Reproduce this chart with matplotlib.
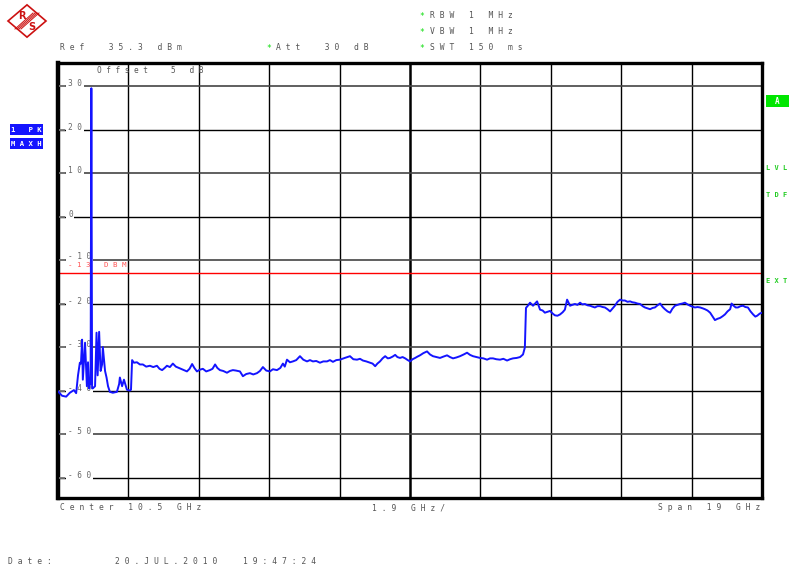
import matplotlib
matplotlib.use("Agg")
import matplotlib.pyplot as plt
from matplotlib.patches import Rectangle, Polygon
from matplotlib.lines import Line2D

# ---------------- data ----------------
freq_ghz = [
    1.00, 1.11, 1.22, 1.32, 1.43, 1.49, 1.54, 1.59, 1.62, 1.65, 1.67, 1.73, 1.78, 1.81, 1.84, 1.86,
    1.88, 1.90, 1.92, 1.94, 2.00, 2.04, 2.07, 2.11, 2.15, 2.19, 2.21, 2.27, 2.31, 2.35, 2.40, 2.48,
    2.59, 2.65, 2.67, 2.73, 2.78, 2.86, 2.94, 2.97,
    3.00, 3.05, 3.13, 3.21, 3.29, 3.38, 3.48, 3.57, 3.67, 3.74, 3.81, 3.88, 3.94, 4.02, 4.10, 4.18,
    4.29, 4.38, 4.48, 4.55, 4.62, 4.68, 4.75, 4.83, 4.91, 5.00, 5.10, 5.17, 5.24, 5.30, 5.37, 5.46,
    5.56, 5.64, 5.72, 5.80, 5.91, 5.99, 6.08, 6.18, 6.27, 6.37, 6.45, 6.53, 6.62, 6.72, 6.80, 6.91,
    7.00, 7.07, 7.12, 7.18, 7.26, 7.34, 7.43, 7.53, 7.62, 7.72, 7.80, 7.88, 7.97, 8.07, 8.16, 8.26,
    8.34, 8.42, 8.51, 8.61, 8.74, 8.88, 8.97, 9.07, 9.15, 9.23, 9.32, 9.42, 9.49, 9.56, 9.62, 9.69,
    9.76, 9.83, 9.90, 9.96, 10.03, 10.10, 10.16, 10.23, 10.30, 10.37, 10.44, 10.50, 10.57, 10.64,
    10.70, 10.77, 10.86, 10.96, 11.04, 11.12, 11.22, 11.31, 11.40, 11.50, 11.58, 11.66, 11.75, 11.85,
    11.95, 12.04, 12.12, 12.20, 12.30, 12.39, 12.48, 12.58, 12.66, 12.74, 12.83, 12.93, 13.02, 13.12,
    13.20, 13.28, 13.38, 13.47, 13.55, 13.60, 13.63, 13.68, 13.74, 13.82, 13.93, 14.01, 14.08, 14.14,
    14.21, 14.28, 14.35, 14.41, 14.48, 14.55, 14.62, 14.68, 14.74, 14.82, 14.88, 14.95, 15.02, 15.09,
    15.15, 15.22, 15.29, 15.36, 15.42, 15.49, 15.56, 15.63, 15.70, 15.76, 15.83, 15.90, 15.96, 16.03,
    16.10, 16.17, 16.24, 16.30, 16.37, 16.44, 16.50, 16.57, 16.64, 16.71, 16.78, 16.84, 16.91, 16.98,
    17.05, 17.11, 17.18, 17.25, 17.32, 17.38, 17.45, 17.52, 17.58, 17.65, 17.72, 17.79, 17.85, 17.92,
    17.99, 18.06, 18.12, 18.19, 18.26, 18.33, 18.40, 18.46, 18.53, 18.60, 18.67, 18.73, 18.80, 18.87,
    18.94, 19.00, 19.07, 19.14, 19.18, 19.22, 19.29, 19.35, 19.42, 19.49, 19.55, 19.62, 19.69, 19.76,
    19.82, 19.87, 19.94, 20.00,
]
level_dbm = [
    -40.2, -41.2, -41.4, -40.5, -39.9, -40.6, -36.5, -33.6, -33.8, -28.3, -37.5, -29.0, -39.0, -33.5, -39.5, -38.5,
    -38.5, 29.5, -39.5, -39.5, -39.0, -26.7, -36.5, -26.5, -35.5, -34.0, -30.0, -35.5, -37.0, -39.0, -40.3, -40.5,
    -40.3, -38.5, -37.0, -39.0, -37.5, -39.8, -40.0, -39.8,
    -33.0, -33.6, -33.5, -34.0, -34.0, -34.5, -34.3, -34.6, -34.3, -35.0, -35.3, -34.8, -34.3, -34.6, -33.8, -34.5,
    -34.9, -35.2, -35.6, -35.0, -33.9, -34.8, -35.6, -35.2, -35.0, -35.6, -35.3, -35.0, -34.0, -34.8, -35.3, -35.5,
    -35.9, -35.5, -35.3, -35.4, -35.6, -36.7, -36.2, -36.0, -36.3, -36.0, -35.5, -34.6, -35.4, -35.6, -35.1, -35.3,
    -34.8, -33.8, -34.5, -32.9, -33.5, -33.3, -33.0, -32.1, -32.9, -33.3, -33.0, -33.3, -33.2, -33.6, -33.3, -33.3,
    -33.0, -33.4, -33.0, -32.9, -32.5, -32.1, -32.8, -32.9, -32.7, -33.1, -33.3, -33.6, -33.8, -34.4, -33.8, -33.3,
    -32.6, -32.1, -32.6, -32.5, -32.2, -31.8, -32.3, -32.5, -32.3, -32.6, -33.0, -33.3, -32.8, -32.5,
    -32.2, -31.9, -31.4, -31.0, -31.7, -32.1, -32.3, -32.5, -32.2, -31.9, -32.3, -32.6, -32.4, -32.1,
    -31.7, -31.3, -31.8, -32.1, -32.3, -32.5, -32.6, -32.9, -32.6, -32.6, -32.8, -32.9, -32.7, -33.1,
    -32.8, -32.6, -32.5, -32.3, -31.7, -30.1, -21.0, -20.5, -19.8, -20.5, -19.5, -21.4, -21.6, -22.1,
    -21.9, -21.7, -22.3, -22.7, -22.8, -22.5, -22.0, -21.4, -19.1, -20.5, -20.3, -20.1, -20.3, -19.8,
    -20.2, -20.1, -20.4, -20.5, -20.7, -20.9, -20.6, -20.6, -20.8, -20.9, -21.3, -21.8, -21.2, -20.5,
    -19.6, -19.1, -19.3, -19.3, -19.6, -19.5, -19.7, -19.8, -20.0, -20.1, -20.6, -20.9, -21.1, -21.3,
    -21.0, -20.9, -20.4, -20.0, -20.8, -21.3, -21.8, -22.1, -21.2, -20.5, -20.3, -20.1, -20.0, -19.8,
    -20.2, -20.5, -20.7, -20.9, -20.8, -20.9, -21.1, -21.3, -21.6, -22.1, -23.0, -23.8, -23.5, -23.3,
    -22.9, -22.5, -21.8, -21.3, -20.0, -20.4, -20.9, -20.9, -20.6, -20.5, -20.8, -20.9, -21.8, -22.5,
    -23.0, -22.8, -22.3, -22.1,
]

ref_level = 35.3
range_db = 100.0
f_start, f_stop = 1.0, 20.0
div_ghz = 1.9
y_grid = [30, 20, 10, 0, -10, -20, -30, -40, -50, -60]
limit_dbm = -13
limit_label = "-13 DBM"

W, H = 789, 568
fig = plt.figure(figsize=(W / 100, H / 100), dpi=100)
fig.patch.set_facecolor("white")


def fx(x):
    return x / W


def fy(y):
    return 1 - y / H


def sp(s):
    return " ".join(s)


MONO = "DejaVu Sans Mono"
GREY = "#555555"
GREEN = "#11dd11"
BLUE = "#1414ff"

ax = fig.add_axes([fx(58), fy(498), (762 - 58) / W, (498 - 63) / H])
ax.set_xlim(f_start, f_stop)
ax.set_ylim(ref_level - range_db, ref_level)
ax.set_xticks([])
ax.set_yticks([])
for s in ax.spines.values():
    s.set_linewidth(2.4)
    s.set_color("black")
ax.spines["left"].set_linewidth(3.2)

# vertical grid
for i in range(1, 10):
    xv = f_start + div_ghz * i
    ax.axvline(xv, color="black", lw=1.8 if i == 5 else 1.0, zorder=1)

# horizontal grid with labels
for k, v in enumerate(y_grid):
    ax.axhline(v, color="#444444" if k % 2 == 0 else "black", lw=1.2 if k % 2 == 0 else 1.0, zorder=1)
    dy = 0.9 if v == -10 else 0.5
    ax.text(1.27, v + dy, sp(str(v)), family=MONO, fontsize=5.6, color="#666666",
            ha="left", va="center", zorder=2,
            bbox=dict(facecolor="white", edgecolor="none", pad=1.2))
    ax.plot([1.04, 1.20], [v, v], color="#777777", lw=1.3, zorder=3, solid_capstyle="butt")

# limit line
ax.axhline(limit_dbm, color="red", lw=1.0, zorder=2)
ax.text(1.27, limit_dbm + 1.9, sp(limit_label), family=MONO, fontsize=5.4, color="#ff5555",
        ha="left", va="center", zorder=3)

# trace
ax.plot(freq_ghz, level_dbm, color=BLUE, lw=1.4, zorder=5)

ax.text(1.0 + (97 - 58) / 704 * 19, ref_level - (70 - 63) / 4.35, sp("Offset  5 dB"), family=MONO,
        fontsize=5.6, color=GREY, ha="left", va="center", zorder=3)

# header texts
fig.text(fx(60), fy(48), sp("Ref  35.3 dBm"), family=MONO, fontsize=5.8, color=GREY, va="center")
fig.text(fx(266), fy(48), "*", family=MONO, fontsize=5.8, color=GREEN, va="center")
fig.text(fx(276), fy(48), sp("Att  30 dB"), family=MONO, fontsize=5.8, color=GREY, va="center")
for yy, t in [(16, "RBW 1 MHz"), (32, "VBW 1 MHz"), (48, "SWT 150 ms")]:
    fig.text(fx(419), fy(yy), "*", family=MONO, fontsize=5.8, color=GREEN, va="center")
    fig.text(fx(430), fy(yy), sp(t), family=MONO, fontsize=5.8, color=GREY, va="center")

# footer texts
fig.text(fx(60), fy(508), sp("Center 10.5 GHz"), family=MONO, fontsize=5.8, color=GREY, va="center")
fig.text(fx(372), fy(508), sp("1.9 GHz/"), family=MONO, fontsize=5.8, color=GREY, va="center")
fig.text(fx(760), fy(508), sp("Span 19 GHz"), family=MONO, fontsize=5.8, color=GREY, va="center", ha="right")
fig.text(fx(8), fy(562), sp("Date:"), family=MONO, fontsize=5.8, color=GREY, va="center")
fig.text(fx(115), fy(562), sp("20.JUL.2010"), family=MONO, fontsize=5.8, color=GREY, va="center")
fig.text(fx(243), fy(562), sp("19:47:24"), family=MONO, fontsize=5.8, color=GREY, va="center")

# left blue boxes
for (y0, y1, t) in [(124, 135, "1 PK"), (138, 149, "MAXH")]:
    fig.patches.append(Rectangle((fx(10), fy(y1)), (43 - 10) / W, (y1 - y0) / H,
                                 transform=fig.transFigure, facecolor=BLUE, edgecolor="none"))
    fig.text(fx(26.5), fy((y0 + y1) / 2), sp(t), family=MONO, fontsize=5.2, color="white",
             ha="center", va="center", weight="bold")

# right green items
fig.patches.append(Rectangle((fx(766), fy(107)), (789 - 766) / W, 12 / H,
                             transform=fig.transFigure, facecolor="#00e600", edgecolor="none"))
fig.text(fx(777), fy(101), "A", family=MONO, fontsize=5.5, color="white", ha="center", va="center",
         weight="bold")
for yy, t in [(168, "LVL"), (195, "TDF"), (281, "EXT")]:
    fig.text(fx(766), fy(yy), sp(t), family=MONO, fontsize=5.0, color="#22cc22", va="center",
             weight="bold")

# R&S logo
cx, cy, r = 27, 21, 19
red = "#cc1111"
diamond = [(fx(cx), fy(cy - r * 0.85)), (fx(cx + r), fy(cy)), (fx(cx), fy(cy + r * 0.85)), (fx(cx - r), fy(cy))]
fig.patches.append(Polygon(diamond, closed=True, transform=fig.transFigure, facecolor="white",
                           edgecolor=red, lw=1.2))
for off in (-3, -1, 1, 3):
    fig.lines.append(Line2D([fx(cx - 9 + off), fx(cx + 9 + off)], [fy(cy + 8), fy(cy - 8)],
                            transform=fig.transFigure, color=red, lw=0.7))
fig.text(fx(22), fy(16), "R", family="DejaVu Sans", fontsize=7, color=red, weight="bold",
         ha="center", va="center")
fig.text(fx(32), fy(27), "S", family="DejaVu Sans", fontsize=7, color=red, weight="bold",
         ha="center", va="center")

fig.savefig("out.png", dpi=100)
